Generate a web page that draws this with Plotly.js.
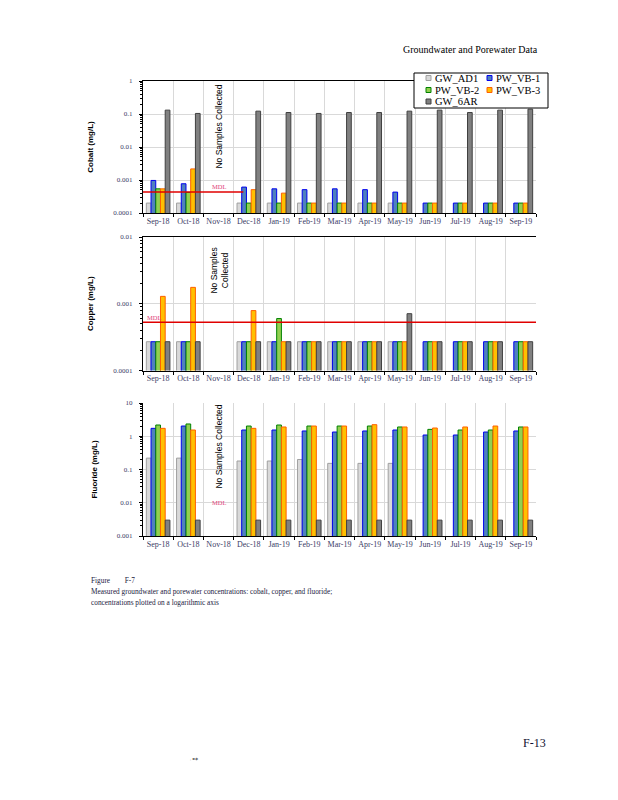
<!DOCTYPE html>
<html><head><meta charset="utf-8">
<script src="https://cdn.plot.ly/plotly-3.0.1.min.js"></script>
<style>html,body{margin:0;padding:0;background:#fff;}#chart{width:618px;height:800px;}</style>
</head><body><div id="chart"></div>
<script>
// ---------- data ----------
const months = ["Sep-18","Oct-18","Nov-18","Dec-18","Jan-19","Feb-19","Mar-19","Apr-19","May-19","Jun-19","Jul-19","Aug-19","Sep-19"];
const seriesNames = ["GW_AD1","PW_VB-1","PW_VB-2","PW_VB-3","GW_6AR"];

const cobaltAD1 = [0.0002,0.0002,null,0.0002,0.0002,0.0002,0.0002,0.0002,0.0002,null,null,null,null];
const cobaltVB1 = [0.00097,0.00077,null,0.00061,0.00054,0.00051,0.00054,0.00051,0.00043,0.0002,0.0002,0.0002,0.0002];
const cobaltVB2 = [0.00054,0.00042,null,0.0002,0.0002,0.0002,0.0002,0.0002,0.0002,0.0002,0.0002,0.0002,0.0002];
const cobaltVB3 = [0.00054,0.00217,null,0.00051,0.0004,0.0002,0.0002,0.0002,0.0002,0.0002,0.0002,0.0002,0.0002];
const cobalt6AR = [0.131,0.104,null,0.122,0.111,0.104,0.111,0.111,0.122,0.131,0.111,0.131,0.14];
const cobaltMDL = 0.00043;

const copperAD1 = [0.00027,0.00027,null,0.00027,0.00027,0.00027,0.00027,0.00027,0.00027,null,null,null,null];
const copperVB1 = [0.00027,0.00027,null,0.00027,0.00027,0.00027,0.00027,0.00027,0.00027,0.00027,0.00027,0.00027,0.00027];
const copperVB2 = [0.00027,0.00027,null,0.00027,0.0006,0.00027,0.00027,0.00027,0.00027,0.00027,0.00027,0.00027,0.00027];
const copperVB3 = [0.00129,0.00176,null,0.00079,0.00027,0.00027,0.00027,0.00027,0.00027,0.00027,0.00027,0.00027,0.00027];
const copper6AR = [0.00027,0.00027,null,0.00027,0.00027,0.00027,0.00027,0.00027,0.00071,0.00027,0.00027,0.00027,0.00027];
const copperMDL = 0.00053;

const fluorideAD1 = [0.22,0.22,null,0.18,0.18,0.2,0.153,0.153,0.153,null,null,null,null];
const fluorideVB1 = [1.73,2.03,null,1.54,1.54,1.44,1.34,1.44,1.54,1.09,1.09,1.34,1.44];
const fluorideVB2 = [2.18,2.34,null,2.03,2.18,2.03,2.03,2.03,1.9,1.61,1.54,1.54,1.9];
const fluorideVB3 = [1.73,1.54,null,1.73,1.9,2.03,2.03,2.23,1.9,1.77,1.9,2.03,1.9];
const fluoride6AR = [0.003,0.003,null,0.003,0.003,0.003,0.003,0.003,0.003,0.003,0.003,0.003,0.003];
const fluorideMDL = 0.01;

const cobaltTicks = [0.0001,0.001,0.01,0.1,1];
const cobaltTickText = ["0.0001","0.001","0.01","0.1","1"];
const copperTicks = [0.0001,0.001,0.01];
const copperTickText = ["0.0001","0.001","0.01"];
const fluorideTicks = [0.001,0.01,0.1,1,10];
const fluorideTickText = ["0.001","0.01","0.1","1","10"];

const headerText = "Groundwater and Porewater Data";
const noSamplesText = "No Samples Collected";
const captionLines = ["Figure        F-7",
  "Measured groundwater and porewater concentrations: cobalt, copper, and fluoride;",
  "concentrations plotted on a logarithmic axis"];
const pageNumber = "F-13";

// ---------- styling ----------
const fills = ["#d9d9d9","#4f81bd","#92d050","#ffc000","#808080"];
const outlines = ["#a0a0a0","#0000ee","#008000","#ff6000","#404040"];

const L = 143, R = 536, T = 81, B = 536;
const px = x => (x - L) / (R - L);
const py = y => (B - y) / (B - T);

const tickColor = "#3b3b66";
const serif = "Liberation Serif, Times New Roman, serif";
const sans = "Liberation Sans, Arial, sans-serif";

function minorVals(lo, hi) {
  const v = [];
  for (let k = lo; k < hi; k++) for (let m = 2; m <= 9; m++) v.push(m * Math.pow(10, k));
  return v;
}

const panels = [
  {x:"x", y:"y", data:[cobaltAD1,cobaltVB1,cobaltVB2,cobaltVB3,cobalt6AR]},
  {x:"x2", y:"y2", data:[copperAD1,copperVB1,copperVB2,copperVB3,copper6AR]},
  {x:"x3", y:"y3", data:[fluorideAD1,fluorideVB1,fluorideVB2,fluorideVB3,fluoride6AR]}
];

const traces = [];
panels.forEach(p => {
  p.data.forEach((vals, i) => {
    traces.push({
      type: "bar", x: months, y: vals, name: seriesNames[i],
      xaxis: p.x, yaxis: p.y, showlegend: false,
      marker: {color: fills[i], line: {color: outlines[i], width: 1}},
      hoverinfo: "x+y+name"
    });
  });
});

function xaxisDef(anchor, mirror) {
  return {
    type: "category", categoryorder: "array", categoryarray: months,
    anchor: anchor, domain: [0,1], range: [-0.5, 12.5],
    tickson: "boundaries", ticks: "outside", ticklen: 3, tickcolor: "#000",
    tickangle: 0,
    showgrid: true, gridcolor: "#d9d9d9", gridwidth: 1,
    showline: true, linecolor: "#000", linewidth: 1, mirror: mirror,
    tickfont: {family: serif, size: 8, color: tickColor},
    fixedrange: true
  };
}
function yaxisDef(anchor, dom, range, tv, tt, title) {
  return {
    type: "log", anchor: anchor, domain: dom, range: range,
    tickmode: "array", tickvals: tv, ticktext: tt,
    ticks: "outside", ticklen: 3, tickcolor: "#000",
    minor: {tickmode: "array", tickvals: minorVals(range[0], range[1]), ticks: "outside", ticklen: 2, tickcolor: "#000", showgrid: false},
    showgrid: true, gridcolor: "#d9d9d9", gridwidth: 1,
    showline: true, linecolor: "#000", linewidth: 1,
    tickfont: {family: serif, size: 7, color: tickColor},
    ticklabelstandoff: 5,
    title: {text: title, font: {family: sans, size: 8, color: "#000", weight: "bold"}, standoff: 18},
    zeroline: false, fixedrange: true
  };
}

const annotations = [];
const shapes = [];

// MDL lines
shapes.push({type:"line", xref:"x", yref:"y", x0:-0.5, x1:2.82, y0:cobaltMDL, y1:cobaltMDL, line:{color:"#e00000", width:1.5}});
shapes.push({type:"line", xref:"x2", yref:"y2", x0:-0.5, x1:12.5, y0:copperMDL, y1:copperMDL, line:{color:"#e00000", width:1.5}});

const mdlFont = {family: serif, size: 6.5, color: "#e0407a"};
annotations.push({xref:"paper", yref:"paper", x:px(211), y:py(186), text:"MDL", showarrow:false, xanchor:"left", yanchor:"middle", font:mdlFont, borderpad:0});
annotations.push({xref:"paper", yref:"paper", x:px(146), y:py(317), text:"MDL", showarrow:false, xanchor:"left", yanchor:"middle", font:mdlFont, borderpad:0});
annotations.push({xref:"x3", yref:"y3", x:2.0, y:Math.log10(fluorideMDL), text:"MDL", showarrow:false, xanchor:"center", yanchor:"middle", font:mdlFont, borderpad:0});

// No samples collected
const nsFont = {family: sans, size: 8.5, color: "#000"};
annotations.push({xref:"x", yref:"paper", x:2, y:py(127), text:noSamplesText, textangle:-90, showarrow:false, xanchor:"center", yanchor:"middle", font:nsFont});
annotations.push({xref:"x2", yref:"paper", x:2, y:py(271), text:"No Samples<br>Collected", textangle:-90, showarrow:false, xanchor:"center", yanchor:"middle", font:nsFont});
annotations.push({xref:"x3", yref:"paper", x:2, y:py(447), text:noSamplesText, textangle:-90, showarrow:false, xanchor:"center", yanchor:"middle", font:nsFont});

// Legend (manual, compact like the reference)
shapes.push({type:"rect", xref:"paper", yref:"paper", x0:px(414), x1:px(548), y0:py(108), y1:py(73), fillcolor:"#fff", line:{color:"#000", width:1}, layer:"above"});
const legendPos = [[426,78],[487,78],[426,90],[487,90],[426,101.5]];
seriesNames.forEach((nm, si) => {
  const [lx, ly] = legendPos[si];
  shapes.push({type:"rect", xref:"paper", yref:"paper", x0:px(lx), x1:px(lx+5), y0:py(ly+2.5), y1:py(ly-2.5), fillcolor:fills[si], line:{color:outlines[si], width:1}, layer:"above"});
  annotations.push({xref:"paper", yref:"paper", x:px(lx+7.5), y:py(ly), text:nm, showarrow:false, xanchor:"left", yanchor:"middle", font:{family:serif, size:10.5, color:"#000"}, borderpad:0});
});

// Page text
annotations.push({xref:"paper", yref:"paper", x:px(540), y:py(49), text:headerText, showarrow:false, xanchor:"right", yanchor:"middle", font:{family:serif, size:10, color:"#000"}});
captionLines.forEach((t, i) => {
  annotations.push({xref:"paper", yref:"paper", x:px(90), y:py(580 + i*11), text:t, showarrow:false, xanchor:"left", yanchor:"middle", font:{family:serif, size:7.3, color:"#1a1a40"}, borderpad:0});
});
annotations.push({xref:"paper", yref:"paper", x:px(521), y:py(743), text:pageNumber, showarrow:false, xanchor:"left", yanchor:"middle", font:{family:serif, size:12, color:"#101030"}});
annotations.push({xref:"paper", yref:"paper", x:px(188), y:py(758), text:"ˌ ▪◆", showarrow:false, xanchor:"left", yanchor:"middle", font:{family:"DejaVu Sans", size:4, color:"#777"}});

const layout = {
  width: 618, height: 800,
  margin: {l: L, r: 618 - R, t: T, b: 800 - B, pad: 0},
  paper_bgcolor: "#fff", plot_bgcolor: "#fff",
  barmode: "group", bargap: 0.22, bargroupgap: 0,
  showlegend: false,
  font: {family: serif, color: "#000"},
  xaxis: xaxisDef("y", true),
  xaxis2: xaxisDef("y2", true),
  xaxis3: xaxisDef("y3", false),
  yaxis: yaxisDef("x", [py(213), py(81)], [-4, 0], cobaltTicks, cobaltTickText, "Cobalt (mg/L)"),
  yaxis2: yaxisDef("x2", [py(370.5), py(237)], [-4, -2], copperTicks, copperTickText, "Copper (mg/L)"),
  yaxis3: yaxisDef("x3", [py(536), py(403)], [-3, 1], fluorideTicks, fluorideTickText, "Fluoride (mg/L)"),
  shapes: shapes, annotations: annotations
};

Plotly.newPlot("chart", traces, layout, {displayModeBar: false, staticPlot: true});
</script>
</body></html>
